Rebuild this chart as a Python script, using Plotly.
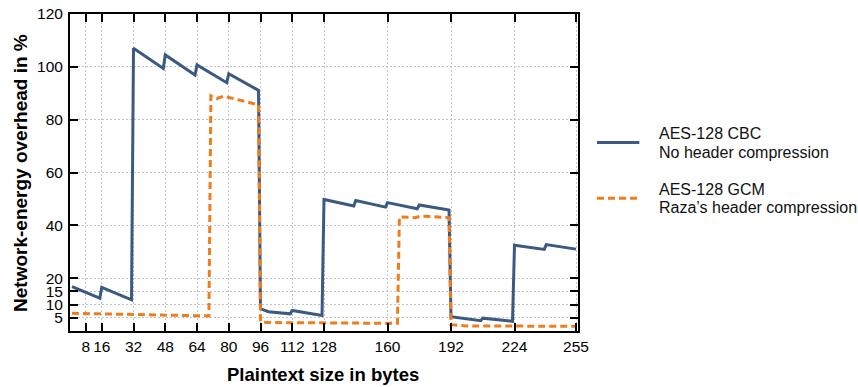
import plotly.graph_objects as go

# Plaintext size (bytes) at the corners of each curve, with the measured overhead (%)
plaintext_cbc = [1, 15, 16, 31, 32, 47, 48, 63, 64, 79, 80, 95, 96, 100, 111, 112, 127,
                 128, 143, 144, 159, 160, 175, 176, 191, 192, 207, 208, 223, 224, 239, 240, 255]
overhead_cbc = [16.8, 12.4, 16.5, 11.8, 107.0, 99.4, 104.5, 96.9, 100.7, 94.0, 97.4, 91.1,
                8.4, 7.3, 6.5, 7.8, 5.9, 49.8, 47.3, 49.4, 46.9, 48.6, 46.3, 47.7, 45.8,
                5.4, 3.9, 4.85, 3.7, 32.5, 30.9, 32.7, 31.0]

plaintext_gcm = [1, 70, 71, 74, 77.5, 95, 96, 99, 165, 166, 174, 177, 191, 192, 200, 255]
overhead_gcm = [6.7, 5.7, 89.0, 88.0, 88.9, 85.6, 3.6, 3.2, 2.9, 43.2, 42.9, 43.5, 42.9,
                2.4, 1.9, 1.8]

x_ticks = [8, 16, 32, 48, 64, 80, 96, 112, 128, 160, 192, 224, 255]
y_ticks = [5, 10, 15, 20, 40, 60, 80, 100, 120]

series_labels = [
    ("AES-128 CBC", "No header compression"),
    ("AES-128 GCM", "Raza\u2019s header compression"),
]

BLUE = "#3b5a82"
ORANGE = "#f07d1c"
FONT = "Liberation Sans, Arial, Helvetica, sans-serif"
DASH = "7px,4px"

fig = go.Figure()
fig.add_trace(go.Scatter(x=plaintext_cbc, y=overhead_cbc, mode="lines",
                         line=dict(color=BLUE, width=3), showlegend=False))
fig.add_trace(go.Scatter(x=plaintext_gcm, y=overhead_gcm, mode="lines",
                         line=dict(color=ORANGE, width=3, dash=DASH), showlegend=False))

axis_common = dict(
    showline=True, linecolor="black", linewidth=2, mirror="ticks",
    ticks="inside", ticklen=8, tickwidth=1.5, tickcolor="black",
    showgrid=True, gridcolor="#c4c4c4", gridwidth=1, griddash="2px,2px",
    zeroline=False, automargin=False,
    tickfont=dict(family=FONT, size=15.5, color="black"),
)

fig.update_xaxes(range=[0, 256], tickmode="array", tickvals=x_ticks,
                 ticktext=[str(v) for v in x_ticks], **axis_common)
fig.update_yaxes(range=[0, 120], tickmode="array", tickvals=y_ticks,
                 ticktext=[str(v) for v in y_ticks], ticklabelstandoff=2, **axis_common)

# Legend drawn at the right of the plot: a key line and two text lines per series
legend_rows = [(BLUE, "solid", 0.595, 0.6237, 0.5637),
               (ORANGE, DASH, 0.4186, 0.4448, 0.3902)]
annotations = []
shapes = []
for (color, dash, y_line, y_top, y_bot), (title, sub) in zip(legend_rows, series_labels):
    shapes.append(dict(type="line", xref="paper", yref="paper",
                       x0=1.0374, x1=1.1207, y0=y_line, y1=y_line,
                       line=dict(color=color, width=3, dash=dash)))
    for txt, yy in ((title, y_top), (sub, y_bot)):
        annotations.append(dict(text=txt, xref="paper", yref="paper", x=1.1556, y=yy,
                                xanchor="left", yanchor="middle", showarrow=False,
                                font=dict(family=FONT, size=16, color="#111")))

annotations.append(dict(text="<b>Plaintext size in bytes</b>", xref="paper", yref="paper",
                        x=0.4983, y=-0.1388, xanchor="center", yanchor="middle",
                        showarrow=False, font=dict(family=FONT, size=18.5, color="black")))
annotations.append(dict(text="<b>Network-energy overhead in %</b>", xref="paper", yref="paper",
                        x=-0.0975, y=0.5, xanchor="center", yanchor="middle", textangle=-90,
                        showarrow=False, font=dict(family=FONT, size=19, color="black")))

fig.update_layout(
    width=858, height=387,
    margin=dict(l=70, r=280, t=14, b=56),
    paper_bgcolor="white", plot_bgcolor="white",
    shapes=shapes, annotations=annotations,
    font=dict(family=FONT),
)

fig.write_html("out.html")
